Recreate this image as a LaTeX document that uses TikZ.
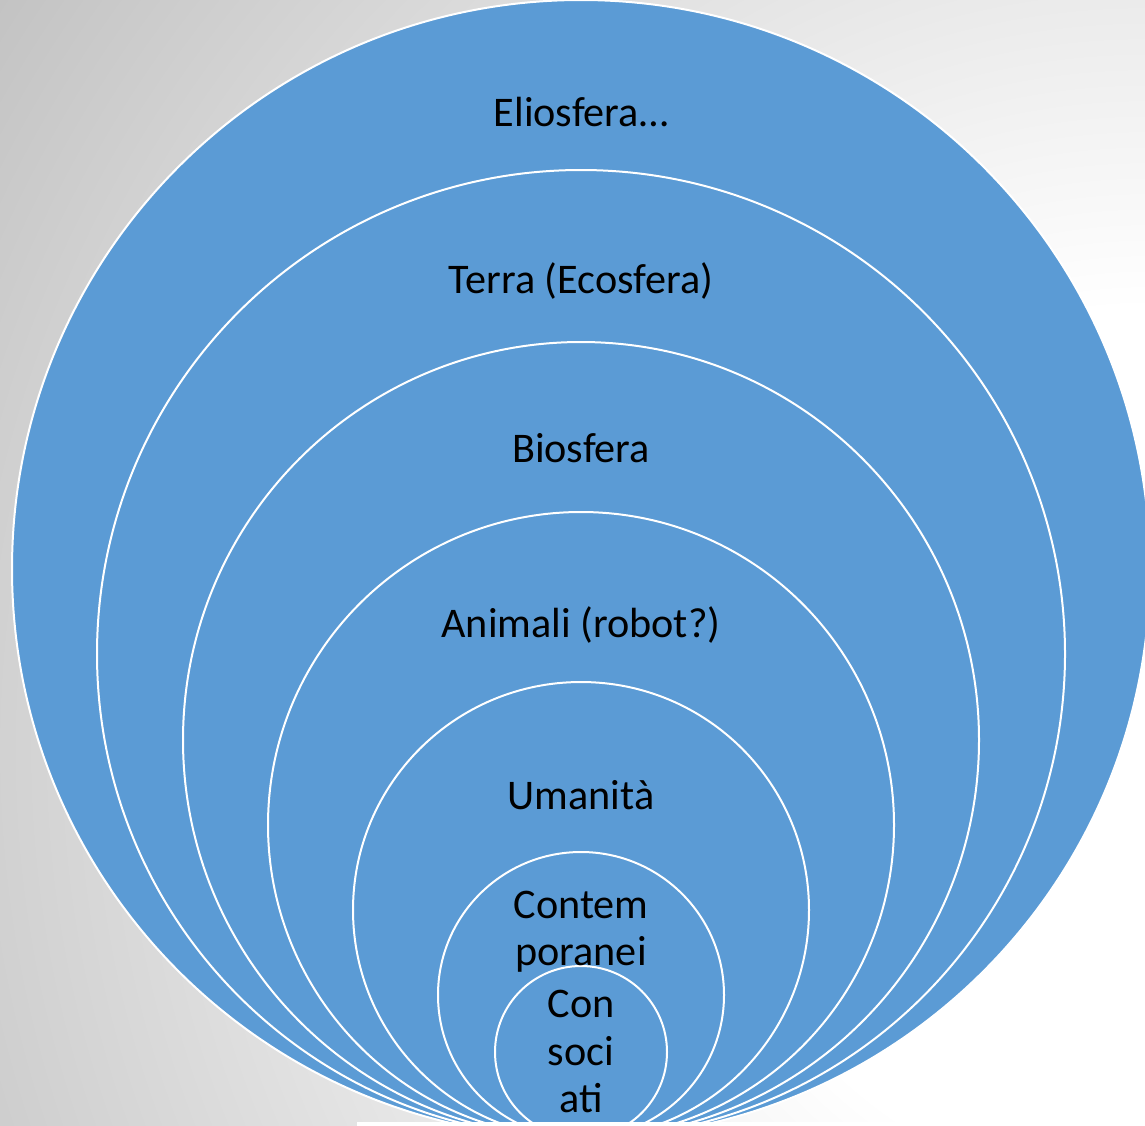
\documentclass[tikz,border=0pt]{standalone}
\usepackage{fontspec}
\setmainfont{Carlito}
\definecolor{ringblue}{HTML}{5B9BD5}
\definecolor{backgray}{RGB}{195,195,195}
\definecolor{backgraydeep}{RGB}{187,187,187}
% soft grey backdrop, brightest towards the right-hand side
\pgfdeclareradialshading{backdrop}{\pgfpoint{0pt}{0pt}}{%
  color(0pt)=(white); color(440pt)=(white);
  color(1370pt)=(backgray); color(1500pt)=(backgraydeep)}
\tikzset{
  ring/.style={fill=ringblue, draw=white, line width=2pt},
  label/.style={font=\fontsize{42.2}{47}\selectfont, text=black, anchor=base,
    inner sep=0pt, outer sep=0pt},
}
\begin{document}
\begin{tikzpicture}[x=1pt, y=-1pt]
  \useasboundingbox (0,0) rectangle (1145,1125);
  \begin{scope}
    \clip (0,0) rectangle (1145,1125);
    \node[inner sep=0pt, outer sep=0pt] (shade) at (1145,750) {\pgfuseshading{backdrop}};

    % nested spheres, all touching at the bottom
    \path[ring] (581,569)  circle[radius=569pt];
    \path[ring] (581,654)  circle[radius=484pt];
    \path[ring] (581,740)  circle[radius=398pt];
    \path[ring] (581,825)  circle[radius=313pt];
    \path[ring] (581,910)  circle[radius=228pt];
    \path[ring] (581,995)  circle[radius=143pt];
    \path[ring] (581,1052) circle[radius=86pt];

    \fill[white] (357,1122) rectangle (1145,1126);
  \end{scope}

  \node[label] (helio)  at (581,126)  {Eliosfera…};
  \node[label] (earth)  at (581,293)  {Terra (Ecosfera)};
  \node[label] (bio)    at (581,462)  {Biosfera};
  \node[label] (animal) at (581,637)  {Animali (robot?)};
  \node[label] (human)  at (581,809)  {Umanità};
  \node[label] (contA)  at (581,918)  {Contem};
  \node[label] (contB)  at (581,965)  {poranei};
  \node[label] (assoA)  at (581,1017) {Con};
  \node[label] (assoB)  at (581,1065) {soci};
  \node[label] (assoC)  at (581,1112) {ati};
\end{tikzpicture}
\end{document}
